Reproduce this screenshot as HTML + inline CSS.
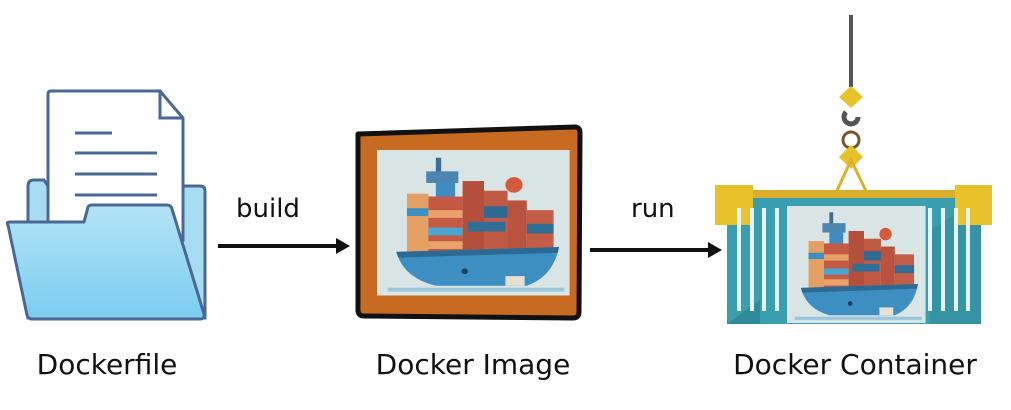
<!DOCTYPE html>
<html><head><meta charset="utf-8"><style>
html,body{margin:0;padding:0;background:#fff;}
svg{display:block}
text{font-family:"DejaVu Sans","Liberation Sans",sans-serif;fill:#111}
</style></head><body>
<svg width="1011" height="410" viewBox="0 0 1011 410" xmlns="http://www.w3.org/2000/svg">
<defs>
<linearGradient id="fg" x1="0" y1="0" x2="0" y2="1"><stop offset="0" stop-color="#b4e3f6"/><stop offset="1" stop-color="#7ccdf0"/></linearGradient>
<g id="ship">
  <rect x="0" y="0" width="180" height="150" fill="#d9e4e5"/>
  <rect x="55" y="8" width="5" height="20" fill="#3c6f95"/>
  <rect x="46" y="22" width="30" height="12" fill="#4a86b0"/>
  <rect x="55" y="34" width="18" height="25" fill="#3f8cc0"/>
  <circle cx="128" cy="36" r="8" fill="#d45a3c"/>
  <rect x="28" y="45" width="20" height="65" fill="#e3a062"/>
  <rect x="28" y="60" width="20" height="8" fill="#3b90c2"/>
  <rect x="48" y="48" width="32" height="62" fill="#c45a44"/>
  <rect x="48" y="62" width="32" height="8" fill="#e8a26a"/>
  <rect x="48" y="80" width="32" height="8" fill="#48a6d0"/>
  <rect x="48" y="94" width="32" height="8" fill="#e8a26a"/>
  <rect x="80" y="32" width="20" height="78" fill="#b44f3c"/>
  <rect x="100" y="42" width="22" height="68" fill="#c05a44"/>
  <rect x="100" y="58" width="22" height="12" fill="#2f6a92"/>
  <rect x="122" y="52" width="18" height="58" fill="#b9523f"/>
  <rect x="140" y="62" width="25" height="48" fill="#c45d45"/>
  <rect x="140" y="76" width="25" height="10" fill="#2f6f95"/>
  <rect x="85" y="74" width="35" height="10" fill="#2f6f95"/>
  <path d="M18 105 L170 100 Q165 130 140 140 L55 140 Q25 132 18 105Z" fill="#3d8fc2"/>
  <path d="M18 105 L170 100 L169 106 L20 111Z" fill="#2d6a93"/>
  <circle cx="82" cy="125" r="3" fill="#1f3f5a"/>
  <rect x="120" y="130" width="18" height="10" fill="#e5e0d0"/>
  <rect x="10" y="142" width="165" height="4" fill="#9cc6d8"/>
</g>
</defs>

<path d="M28 186 Q28 180 34 180 L44 180 L48 186 L200 186 Q205 186 205 191 L205 318 L28 318Z" fill="#a8dcf3" stroke="#4a6894" stroke-width="3"/>
<path d="M48 94 Q48 91 51 91 L160 91 L183 118 L183 240 L48 240Z" fill="#fff" stroke="#4a6894" stroke-width="3"/>
<path d="M160 91 L160 118 L183 118" fill="none" stroke="#4a6894" stroke-width="3"/>
<g stroke="#4a6894" stroke-width="3"><line x1="75" y1="133" x2="112" y2="133"/><line x1="75" y1="153" x2="157" y2="153"/><line x1="75" y1="174" x2="157" y2="174"/><line x1="75" y1="195" x2="157" y2="195"/></g>
<path d="M8 225 Q6 222 10 222 L84 222 L88 207 Q89 205 92 205 L167 205 Q171 205 172 209 L204 314 Q205 319 200 319 L32 319 Q28 319 27 315Z" fill="url(#fg)" stroke="#4a6894" stroke-width="3" stroke-linejoin="round"/>

<text x="236" y="217" font-size="26">build</text>
<line x1="218" y1="246" x2="340" y2="246" stroke="#111" stroke-width="4"/>
<path d="M336 238 L350 246 L336 254Z" fill="#111"/>

<path d="M358 134 L575 127 Q580 127 580 133 L579 312 Q579 318 573 318 L364 316 Q358 316 358 310Z" fill="#c66b21" stroke="#111" stroke-width="5" stroke-linejoin="round"/>
<use href="#ship" transform="translate(377,150) scale(1.07,0.97)"/>

<text x="631" y="217" font-size="26">run</text>
<line x1="590" y1="250" x2="712" y2="250" stroke="#111" stroke-width="4"/>
<path d="M708 242 L722 250 L708 258Z" fill="#111"/>

<line x1="851" y1="15" x2="851" y2="87" stroke="#555" stroke-width="4"/>
<path d="M851 86 L863 97 L851 108 L839 97Z" fill="#e8c22a"/>
<path d="M858 117 A7 7 0 1 1 846 112" fill="none" stroke="#555" stroke-width="5"/>
<circle cx="851" cy="140" r="8" fill="none" stroke="#7a5530" stroke-width="3"/>
<path d="M851 145 L863 157 L851 169 L839 157Z" fill="#e8c22a"/>
<path d="M835 195 L851 160 L868 195" fill="none" stroke="#d9b12a" stroke-width="3"/>
<rect x="752" y="190" width="204" height="9" fill="#d9ae2c"/>
<rect x="727" y="198" width="254" height="126" fill="#3a9eae"/>
<path d="M727 324 L760 300 L760 324Z" fill="#2f8a99"/>
<path d="M930 230 L981 198 L981 324 L930 324Z" fill="#3593a3"/>
<rect x="715" y="185" width="38" height="40" fill="#e8c22a"/>
<rect x="955" y="185" width="37" height="40" fill="#e8c22a"/>
<g fill="#e6f2f4">
<rect x="737" y="208" width="4" height="103"/><rect x="750" y="208" width="4" height="103"/><rect x="762" y="208" width="4" height="103"/><rect x="775" y="208" width="4" height="103"/>
<rect x="928" y="208" width="4" height="103"/><rect x="941" y="208" width="4" height="103"/><rect x="954" y="208" width="4" height="103"/><rect x="966" y="208" width="4" height="103"/>
</g>
<use href="#ship" transform="translate(787,206) scale(0.77,0.78)"/>

<text x="107" y="374" font-size="28" text-anchor="middle">Dockerfile</text>
<text x="473" y="374" font-size="28" text-anchor="middle">Docker Image</text>
<text x="855" y="374" font-size="28" text-anchor="middle">Docker Container</text>
</svg>
</body></html>
